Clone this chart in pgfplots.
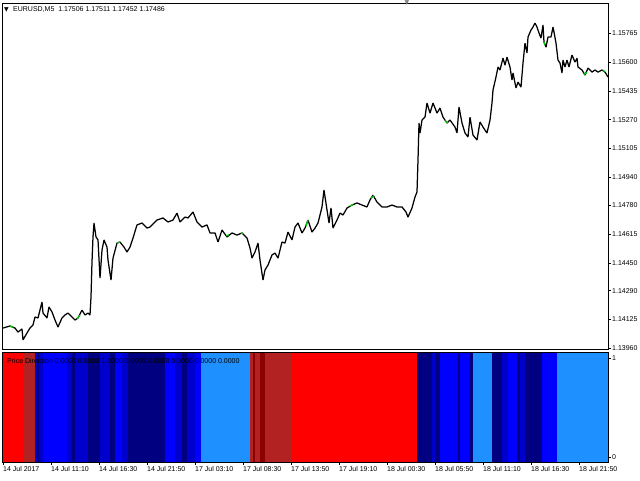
\documentclass[border=0pt]{standalone}
\usepackage{pgfplots}
\pgfplotsset{compat=1.18}
\usepackage{fontspec}
\setmainfont{Liberation Sans}
\newfontfamily\symfont{DejaVu Sans}
\definecolor{cRed}{HTML}{FF0000}
\definecolor{cFire}{HTML}{B22222}
\definecolor{cDRed}{HTML}{8B0000}
\definecolor{cBlue}{HTML}{0000FF}
\definecolor{cMed}{HTML}{0000CD}
\definecolor{cNavy}{HTML}{000080}
\definecolor{cDodger}{HTML}{1E90FF}
\definecolor{cGreen}{HTML}{00C800}
\newcommand{\band}[3]{\addplot[fill=#1,draw=none,forget plot] coordinates {(#2,-0.2) (#2,1.2) (#3,1.2) (#3,-0.2)} -- cycle;}
\newcommand{\lbl}{\fontsize{7}{8}\selectfont}
\begin{document}
\begin{tikzpicture}[x=1pt,y=1pt]
\path[use as bounding box] (0,0) rectangle (640,480);
\begin{axis}[at={(2pt,131pt)}, anchor=south west, scale only axis,
  width=606pt, height=346pt, xmin=2, xmax=608, ymin=1.13956, ymax=1.15939,
  xtick=\empty, scaled y ticks=false,
  ytick={1.13960,1.14125,1.14290,1.14450,1.14615,1.14780,1.14940,1.15105,1.15270,1.15435,1.15600,1.15765},
  yticklabels={1.13960,1.14125,1.14290,1.14450,1.14615,1.14780,1.14940,1.15105,1.15270,1.15435,1.15600,1.15765},
  ytick pos=right, yticklabel pos=right, tick align=outside, major tick length=3pt,
  yticklabel style={font=\lbl, anchor=west, inner sep=0pt, xshift=1pt},
  axis line style={black, line width=0.6pt}, tick style={black, line width=0.5pt}]
\addplot[black, line width=1.25pt, line join=bevel] coordinates {
(3,1.14076)(10,1.14088)(15,1.14076)(18,1.14053)(22,1.14071)(23,1.14008)(27,1.14048)(30,1.14076)
(33,1.14094)(35,1.14139)(38,1.14134)(42,1.14225)(43,1.14162)(47,1.14134)(49,1.14197)(52,1.14168)
(55,1.14122)(58,1.14082)(62,1.14134)(65,1.14151)(68,1.14162)(72,1.14139)(75,1.14122)(78,1.14134)
(82,1.14179)(85,1.14151)(88,1.14162)(90,1.14151)(91,1.14254)(92,1.14455)(93,1.14598)(94,1.14678)
(96,1.14598)(98,1.14581)(100,1.14363)(102,1.14523)(104,1.14581)(107,1.14540)(108,1.14466)(111,1.14351)
(113,1.14477)(117,1.14563)(120,1.14569)(124,1.14540)(127,1.14512)(130,1.14540)(133,1.14592)(137,1.14667)
(142,1.14678)(147,1.14649)(150,1.14655)(152,1.14667)(157,1.14695)(163,1.14707)(168,1.14684)(173,1.14695)
(177,1.14735)(180,1.14684)(185,1.14712)(188,1.14707)(193,1.14741)(197,1.14684)(202,1.14655)(207,1.14667)
(210,1.14621)(215,1.14621)(218,1.14569)(222,1.14638)(227,1.14598)(232,1.14621)(237,1.14609)(242,1.14621)
(247,1.14592)(250,1.14535)(252,1.14477)(255,1.14512)(258,1.14563)(260,1.14466)(263,1.14351)(265,1.14409)
(268,1.14437)(272,1.14495)(275,1.14506)(278,1.14477)(282,1.14569)(285,1.14563)(288,1.14626)(292,1.14581)
(295,1.14655)(298,1.14678)(302,1.14621)(305,1.14649)(308,1.14695)(312,1.14626)(315,1.14649)(318,1.14678)
(322,1.14770)(324,1.14867)(327,1.14753)(329,1.14678)(331,1.14764)(333,1.14649)(337,1.14695)(340,1.14735)
(343,1.14724)(347,1.14764)(352,1.14781)(357,1.14793)(362,1.14781)(367,1.14770)(370,1.14810)(373,1.14838)
(377,1.14798)(382,1.14770)(387,1.14770)(392,1.14781)(397,1.14770)(402,1.14770)(406,1.14741)(408,1.14712)
(412,1.14764)(415,1.14827)(417,1.14856)(418,1.15039)(419,1.15251)(420,1.15194)(422,1.15268)(425,1.15285)
(427,1.15366)(430,1.15308)(433,1.15366)(437,1.15308)(440,1.15337)(443,1.15285)(447,1.15251)(450,1.15268)
(455,1.15228)(457,1.15194)(459,1.15343)(462,1.15251)(465,1.15194)(468,1.15171)(470,1.15285)(473,1.15182)
(477,1.15154)(480,1.15257)(483,1.15228)(487,1.15194)(490,1.15268)(492,1.15366)(493,1.15440)(496,1.15515)
(498,1.15572)(500,1.15555)(503,1.15623)(505,1.15583)(507,1.15629)(510,1.15572)(512,1.15497)(513,1.15538)
(516,1.15452)(518,1.15486)(521,1.15457)(523,1.15595)(525,1.15709)(527,1.15652)(528,1.15744)(531,1.15784)
(533,1.15801)(535,1.15824)(537,1.15801)(539,1.15767)(541,1.15738)(543,1.15813)(544,1.15715)(546,1.15686)
(548,1.15744)(551,1.15744)(553,1.15801)(554,1.15772)(556,1.15709)(558,1.15612)(560,1.15595)(562,1.15538)
(563,1.15612)(565,1.15572)(567,1.15612)(569,1.15572)(572,1.15641)(575,1.15600)(577,1.15623)(578,1.15572)
(582,1.15555)(585,1.15526)(588,1.15566)(592,1.15543)(595,1.15555)(598,1.15543)(602,1.15555)(605,1.15543)
(608,1.15515)};
\addplot[cGreen, line width=1.3pt, unbounded coords=jump] coordinates {
(10,1.14088)(13,1.14080) (nan,nan)
(77,1.14128)(80,1.14150) (nan,nan)
(117,1.14563)(120,1.14569) (nan,nan)
(226,1.14605)(229,1.14610) (nan,nan)
(241,1.14618)(243,1.14620) (nan,nan)
(306,1.14660)(308,1.14695) (nan,nan)
(350,1.14775)(353,1.14785) (nan,nan)
(371,1.14820)(374,1.14835) (nan,nan)
(445,1.15265)(448,1.15250) (nan,nan)
(544,1.15715)(545,1.15700) (nan,nan)
(584,1.15530)(587,1.15540) (nan,nan)
(603,1.15555)(605,1.15543)};
\end{axis}
\begin{axis}[at={(2pt,18pt)}, anchor=south west, scale only axis,
  width=606pt, height=110pt, xmin=2, xmax=608, ymin=-0.0505, ymax=1.0606,
  axis on top,
  ytick={0,1}, yticklabels={0,1},
  xtick={3,51,99,147,195,243,291,339,387,435,483,531,579},
  xticklabels={14 Jul 2017,14 Jul 11:10,14 Jul 16:30,14 Jul 21:50,17 Jul 03:10,17 Jul 08:30,17 Jul 13:50,17 Jul 19:10,18 Jul 00:30,18 Jul 05:50,18 Jul 11:10,18 Jul 16:30,18 Jul 21:50},
  xtick pos=bottom, ytick pos=right, yticklabel pos=right,
  tick align=outside, major tick length=3pt,
  xticklabel style={font=\lbl, anchor=north west, inner sep=0pt, yshift=-1pt},
  yticklabel style={font=\lbl, anchor=west, inner sep=0pt, xshift=1pt},
  axis line style={black, line width=0.6pt}, tick style={black, line width=0.5pt}]
\band{cRed}{2}{23}
\band{cFire}{23}{35}
\band{cMed}{35}{43}
\band{cNavy}{37}{39}
\band{cBlue}{43}{67}
\band{cMed}{67}{72}
\band{cNavy}{72}{75}
\band{cMed}{75}{88}
\band{cNavy}{88}{100}
\band{cMed}{100}{110}
\band{cNavy}{110}{115}
\band{cBlue}{115}{122}
\band{cMed}{122}{128}
\band{cNavy}{128}{165}
\band{cBlue}{165}{175}
\band{cMed}{175}{182}
\band{cNavy}{182}{187}
\band{cMed}{187}{195}
\band{cBlue}{195}{201}
\band{cDodger}{201}{250}
\band{cFire}{250}{253}
\band{cDRed}{253}{255}
\band{cFire}{255}{260}
\band{cDRed}{260}{265}
\band{cFire}{265}{292}
\band{cRed}{292}{417}
\band{cNavy}{417}{432}
\band{cMed}{432}{435}
\band{cNavy}{435}{440}
\band{cBlue}{440}{458}
\band{cNavy}{458}{460}
\band{cBlue}{460}{470}
\band{cNavy}{470}{473}
\band{cDodger}{473}{492}
\band{cNavy}{492}{502}
\band{cMed}{502}{508}
\band{cBlue}{508}{517}
\band{cNavy}{517}{520}
\band{cMed}{520}{525}
\band{cNavy}{525}{542}
\band{cBlue}{542}{557}
\band{cDodger}{557}{608}
\end{axis}
\node[anchor=west, inner sep=0pt] at (4,470) {\symfont\fontsize{6}{6}\selectfont ▼};
\node[anchor=west, inner sep=0pt] at (13,470) {\lbl EURUSD,M5\ \ 1.17506 1.17511 1.17452 1.17486};
\node[anchor=center, inner sep=0pt, gray] at (407,477) {\symfont\fontsize{6}{6}\selectfont ▼};
\node[anchor=west, inner sep=0pt] at (7,119) {\lbl Price Direction 0.0000 0.0000 1.0000 0.0000 0.0000 0.0000 0.0000 0.0000};
\end{tikzpicture}
\end{document}
